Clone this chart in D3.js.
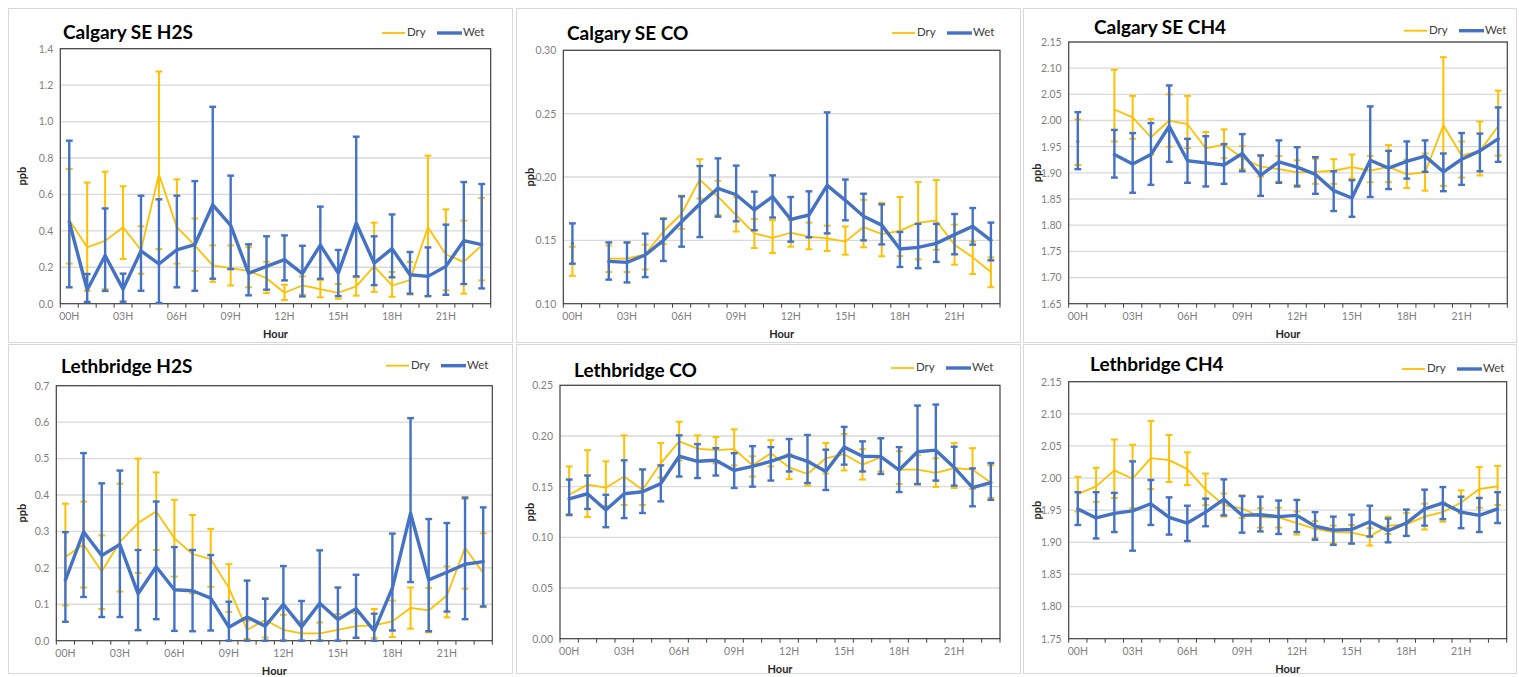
<!DOCTYPE html>
<html>
<head>
<meta charset="utf-8">
<script src="https://cdn.jsdelivr.net/npm/d3@7"></script>
<style>
  body { margin: 0; background: #fff; }
  svg { display: block; font-family: Lato, "Noto Sans", sans-serif; }
</style>
</head>
<body>
<svg id="chart" width="1519" height="677"></svg>
<script>
// Hour-of-day categories
const HOURS = ["00H","01H","02H","03H","04H","05H","06H","07H","08H","09H","10H","11H",
               "12H","13H","14H","15H","16H","17H","18H","19H","20H","21H","22H","23H"];
const HOUR_LABELS = ["00H","03H","06H","09H","12H","15H","18H","21H"];

// Calgary SE H2S (ppb): hourly mean with lower / upper error limits
const CAL_H2S_DRY_MEAN = [0.46,0.31,0.345,0.42,0.295,0.71,0.42,0.32,0.21,0.195,0.18,0.14,0.06,0.10,0.08,0.06,0.095,0.205,0.10,0.13,0.42,0.27,0.23,0.32];
const CAL_H2S_DRY_LO   = [0.22,0.07,0.08,0.245,0.165,0.30,0.22,0.18,0.12,0.10,0.09,0.058,0.02,0.05,0.035,0.027,0.044,0.065,0.038,0.05,0.04,0.073,0.055,0.128];
const CAL_H2S_DRY_HI   = [0.74,0.665,0.725,0.645,0.425,1.275,0.683,0.468,0.32,0.32,0.31,0.23,0.104,0.15,0.13,0.108,0.145,0.445,0.174,0.229,0.813,0.518,0.456,0.58];
const CAL_H2S_WET_MEAN = [0.45,0.075,0.265,0.08,0.29,0.218,0.296,0.324,0.543,0.43,0.167,0.205,0.242,0.165,0.322,0.168,0.443,0.223,0.302,0.159,0.15,0.205,0.346,0.324];
const CAL_H2S_WET_LO   = [0.09,0.01,0.07,0.011,0.071,0.004,0.09,0.071,0.137,0.19,0.046,0.077,0.128,0.04,0.137,0.042,0.15,0.102,0.145,0.055,0.042,0.049,0.108,0.084];
const CAL_H2S_WET_HI   = [0.895,0.163,0.523,0.165,0.593,0.573,0.593,0.673,1.081,0.703,0.326,0.37,0.375,0.318,0.533,0.295,0.917,0.37,0.49,0.284,0.309,0.434,0.668,0.657];

// Calgary SE CO (no 01H data)
const CAL_CO_DRY_MEAN = [0.133,null,0.1355,0.1355,0.139,0.157,0.171,0.198,0.1845,0.170,0.1555,0.152,0.156,0.153,0.1515,0.149,0.1605,0.155,0.1575,0.164,0.1655,0.1466,0.1366,0.125];
const CAL_CO_DRY_LO   = [0.122,null,0.125,0.125,0.127,0.147,0.159,0.183,0.170,0.157,0.144,0.140,0.145,0.143,0.1416,0.1387,0.1445,0.1374,0.1376,0.135,0.1426,0.1308,0.1234,0.113];
const CAL_CO_DRY_HI   = [0.145,null,0.146,0.148,0.1466,0.1676,0.1853,0.214,0.197,0.184,0.1668,0.166,0.166,0.164,0.1616,0.161,0.182,0.1797,0.1842,0.196,0.1976,0.1624,0.149,0.1366];
const CAL_CO_WET_MEAN = [0.1475,null,0.1334,0.1326,0.1384,0.150,0.1647,0.1787,0.191,0.186,0.174,0.1845,0.1666,0.170,0.1934,0.1816,0.169,0.162,0.1432,0.1445,0.1476,0.1545,0.161,0.150];
const CAL_CO_WET_LO   = [0.1316,null,0.119,0.1168,0.121,0.1337,0.145,0.1526,0.1687,0.165,0.158,0.168,0.149,0.1524,0.1555,0.1658,0.150,0.1468,0.129,0.128,0.133,0.139,0.1466,0.1342];
const CAL_CO_WET_HI   = [0.1634,null,0.1484,0.1484,0.1553,0.167,0.1847,0.2087,0.2147,0.209,0.1884,0.2013,0.1842,0.1887,0.251,0.198,0.1868,0.1784,0.1566,0.163,0.163,0.1708,0.1755,0.164];

// Calgary SE CH4 (no 01H data)
const CAL_CH4_DRY_MEAN = [1.958,null,2.021,2.006,1.968,2.0,1.993,1.947,1.954,1.928,1.912,1.907,1.901,1.902,1.904,1.911,1.904,1.912,1.897,1.901,1.991,1.933,1.942,1.989];
const CAL_CH4_DRY_LO   = [1.915,null,1.960,1.965,1.935,1.950,1.947,1.92,1.928,1.907,1.893,1.883,1.877,1.879,1.879,1.889,1.882,1.882,1.871,1.866,1.875,1.891,1.895,1.933];
const CAL_CH4_DRY_HI   = [2.002,null,2.097,2.047,2.003,2.05,2.047,1.978,1.983,1.951,1.934,1.932,1.924,1.927,1.926,1.935,1.932,1.953,1.925,1.937,2.121,1.96,1.998,2.057];
const CAL_CH4_WET_MEAN = [1.96,null,1.935,1.917,1.935,1.989,1.923,1.919,1.915,1.937,1.895,1.921,1.911,1.897,1.866,1.852,1.924,1.909,1.922,1.932,1.902,1.926,1.942,1.965];
const CAL_CH4_WET_LO   = [1.907,null,1.891,1.862,1.877,1.921,1.881,1.874,1.879,1.903,1.856,1.881,1.874,1.86,1.827,1.816,1.854,1.869,1.889,1.902,1.865,1.877,1.903,1.921];
const CAL_CH4_WET_HI   = [2.016,null,1.982,1.976,1.995,2.067,1.965,1.970,1.955,1.974,1.933,1.962,1.949,1.93,1.903,1.886,2.027,1.942,1.96,1.962,1.937,1.976,1.975,2.025];

// Lethbridge H2S
const LET_H2S_DRY_MEAN = [0.23,0.264,0.19,0.271,0.323,0.355,0.281,0.238,0.224,0.145,0.03,0.057,0.03,0.02,0.02,0.03,0.04,0.042,0.053,0.09,0.083,0.124,0.255,0.186];
const LET_H2S_DRY_LO   = [0.097,0.146,0.087,0.135,0.186,0.249,0.176,0.13,0.148,0.079,0.005,0.009,0.0,0.0,0.0,0.0,0.007,0.008,0.01,0.033,0.023,0.064,0.143,0.092];
const LET_H2S_DRY_HI   = [0.376,0.382,0.289,0.431,0.500,0.462,0.387,0.345,0.307,0.210,0.055,0.117,0.071,0.053,0.050,0.073,0.075,0.087,0.110,0.146,0.145,0.204,0.389,0.295];
const LET_H2S_WET_MEAN = [0.166,0.299,0.234,0.264,0.129,0.203,0.14,0.137,0.117,0.037,0.065,0.040,0.100,0.038,0.103,0.058,0.088,0.027,0.145,0.350,0.167,0.188,0.210,0.217];
const LET_H2S_WET_LO   = [0.052,0.120,0.065,0.065,0.029,0.059,0.027,0.026,0.028,0,0,0,0,0,0,0,0.008,0,0.028,0.161,0.026,0.080,0.059,0.094];
const LET_H2S_WET_HI   = [0.298,0.515,0.432,0.467,0.249,0.382,0.257,0.249,0.235,0.107,0.165,0.115,0.205,0.109,0.248,0.146,0.181,0.074,0.294,0.611,0.334,0.323,0.393,0.366];

// Lethbridge CO
const LET_CO_DRY_MEAN = [0.142,0.152,0.149,0.160,0.147,0.173,0.1947,0.1875,0.186,0.187,0.171,0.183,0.169,0.1625,0.178,0.182,0.1717,0.179,0.1668,0.1668,0.1635,0.1684,0.1668,0.154];
const LET_CO_DRY_LO   = [0.123,0.12,0.131,0.132,0.132,0.159,0.176,0.175,0.173,0.171,0.160,0.170,0.1575,0.151,0.163,0.166,0.157,0.165,0.1526,0.152,0.1497,0.1487,0.1477,0.139];
const LET_CO_DRY_HI   = [0.170,0.186,0.175,0.2006,0.167,0.193,0.214,0.2006,0.199,0.2066,0.180,0.196,0.182,0.175,0.193,0.202,0.187,0.198,0.185,0.181,0.178,0.193,0.188,0.171];
const LET_CO_WET_MEAN = [0.138,0.143,0.127,0.143,0.145,0.153,0.180,0.175,0.176,0.166,0.170,0.175,0.181,0.175,0.165,0.189,0.180,0.1796,0.1664,0.1845,0.186,0.169,0.149,0.154];
const LET_CO_WET_LO   = [0.122,0.128,0.110,0.119,0.124,0.1355,0.160,0.1585,0.161,0.1487,0.150,0.156,0.165,0.1536,0.1467,0.1717,0.165,0.1625,0.1447,0.1526,0.156,0.151,0.1306,0.137];
const LET_CO_WET_HI   = [0.157,0.161,0.142,0.176,0.167,0.171,0.2006,0.192,0.188,0.183,0.190,0.189,0.197,0.201,0.1865,0.209,0.1947,0.1977,0.189,0.230,0.231,0.1894,0.168,0.1733];

// Lethbridge CH4
const LET_CH4_DRY_MEAN = [1.975,1.987,2.012,1.999,2.031,2.028,2.014,1.982,1.958,1.953,1.939,1.939,1.930,1.921,1.916,1.915,1.909,1.926,1.928,1.940,1.947,1.962,1.983,1.987];
const LET_CH4_DRY_LO   = [1.948,1.963,1.969,1.953,1.983,1.994,1.989,1.958,1.940,1.938,1.923,1.923,1.912,1.907,1.899,1.899,1.895,1.913,1.910,1.92,1.932,1.945,1.954,1.958];
const LET_CH4_DRY_HI   = [2.002,2.016,2.060,2.052,2.089,2.067,2.040,2.007,1.976,1.973,1.953,1.954,1.948,1.933,1.926,1.927,1.922,1.940,1.946,1.96,1.962,1.981,2.017,2.019];
const LET_CH4_WET_MEAN = [1.952,1.938,1.945,1.949,1.960,1.939,1.930,1.947,1.967,1.942,1.943,1.940,1.942,1.925,1.919,1.920,1.932,1.918,1.930,1.952,1.961,1.947,1.942,1.952];
const LET_CH4_WET_LO   = [1.927,1.906,1.916,1.887,1.927,1.912,1.902,1.925,1.942,1.915,1.917,1.913,1.916,1.904,1.896,1.898,1.909,1.900,1.910,1.926,1.936,1.922,1.916,1.930];
const LET_CH4_WET_HI   = [1.978,1.978,1.977,2.026,1.997,1.970,1.957,1.968,1.998,1.972,1.971,1.965,1.966,1.947,1.940,1.943,1.957,1.937,1.951,1.982,1.986,1.971,1.969,1.978];

const DRY_COLOR = "#FFC000";
const WET_COLOR = "#4472C4";

// Panel layout: outer frame, plot area, title and legend anchors
const panels = [
  { title: "Calgary SE H2S", box: [8, 8, 504, 334], plot: [60.3, 48.7, 490.7, 303.7],
    domain: [0, 1.4], step: 0.2, fmt: ".1f", titleX: 63, titleY: 39, legendX: 382, legendY: 33,
    dry: [CAL_H2S_DRY_MEAN, CAL_H2S_DRY_LO, CAL_H2S_DRY_HI], wet: [CAL_H2S_WET_MEAN, CAL_H2S_WET_LO, CAL_H2S_WET_HI] },
  { title: "Calgary SE CO", box: [516, 8, 504, 334], plot: [563.3, 50.3, 1000, 303.7],
    domain: [0.10, 0.30], step: 0.05, fmt: ".2f", titleX: 567, titleY: 40, legendX: 892, legendY: 33,
    dry: [CAL_CO_DRY_MEAN, CAL_CO_DRY_LO, CAL_CO_DRY_HI], wet: [CAL_CO_WET_MEAN, CAL_CO_WET_LO, CAL_CO_WET_HI] },
  { title: "Calgary SE CH4", box: [1023, 8, 493, 334], plot: [1068.7, 42, 1507.3, 303.7],
    domain: [1.65, 2.15], step: 0.05, fmt: ".2f", titleX: 1094, titleY: 34, legendX: 1404, legendY: 30.7,
    dry: [CAL_CH4_DRY_MEAN, CAL_CH4_DRY_LO, CAL_CH4_DRY_HI], wet: [CAL_CH4_WET_MEAN, CAL_CH4_WET_LO, CAL_CH4_WET_HI] },
  { title: "Lethbridge H2S", box: [8, 344, 504, 329], plot: [56.3, 385.7, 492.3, 640.7],
    domain: [0, 0.7], step: 0.1, fmt: ".1f", titleX: 61, titleY: 373, legendX: 386, legendY: 365.7,
    dry: [LET_H2S_DRY_MEAN, LET_H2S_DRY_LO, LET_H2S_DRY_HI], wet: [LET_H2S_WET_MEAN, LET_H2S_WET_LO, LET_H2S_WET_HI] },
  { title: "Lethbridge CO", box: [516, 344, 504, 329], plot: [560, 385.3, 1000, 638.7],
    domain: [0, 0.25], step: 0.05, fmt: ".2f", titleX: 574, titleY: 377, legendX: 891, legendY: 368,
    dry: [LET_CO_DRY_MEAN, LET_CO_DRY_LO, LET_CO_DRY_HI], wet: [LET_CO_WET_MEAN, LET_CO_WET_LO, LET_CO_WET_HI] },
  { title: "Lethbridge CH4", box: [1023, 344, 493, 329], plot: [1068.7, 381.7, 1506.7, 638.7],
    domain: [1.75, 2.15], step: 0.05, fmt: ".2f", titleX: 1090, titleY: 371, legendX: 1402, legendY: 369,
    dry: [LET_CH4_DRY_MEAN, LET_CH4_DRY_LO, LET_CH4_DRY_HI], wet: [LET_CH4_WET_MEAN, LET_CH4_WET_LO, LET_CH4_WET_HI] }
];

const svg = d3.select("#chart");

function drawSeries(g, x, y, arrays, color, lineW, barW) {
  const [mean, lo, hi] = arrays;
  const pts = HOURS.map((h, i) => ({ h, m: mean[i], lo: lo[i], hi: hi[i] }));
  const valid = pts.filter(d => d.m != null);
  const cx = d => x(d.h) + x.bandwidth() / 2;
  const capHalf = 3.4;

  const eb = g.append("g").attr("stroke", color).attr("stroke-width", barW).attr("fill", "none");
  eb.selectAll("line.v").data(valid).join("line").attr("class", "v")
    .attr("x1", cx).attr("x2", cx).attr("y1", d => y(d.lo)).attr("y2", d => y(d.hi));
  eb.selectAll("line.t").data(valid).join("line").attr("class", "t")
    .attr("x1", d => cx(d) - capHalf).attr("x2", d => cx(d) + capHalf)
    .attr("y1", d => y(d.hi)).attr("y2", d => y(d.hi));
  eb.selectAll("line.b").data(valid).join("line").attr("class", "b")
    .attr("x1", d => cx(d) - capHalf).attr("x2", d => cx(d) + capHalf)
    .attr("y1", d => y(d.lo)).attr("y2", d => y(d.lo));

  const line = d3.line().defined(d => d.m != null).x(cx).y(d => y(d.m));
  g.append("path").datum(pts).attr("d", line)
    .attr("fill", "none").attr("stroke", color).attr("stroke-width", lineW)
    .attr("stroke-linejoin", "round").attr("stroke-linecap", "round");
}

panels.forEach(p => {
  const [bx, by, bw, bh] = p.box;
  const [x0, y0, x1, y1] = p.plot;
  const g = svg.append("g");

  // chart frame
  g.append("rect").attr("x", bx + 0.5).attr("y", by + 0.5).attr("width", bw).attr("height", bh)
    .attr("fill", "#fff").attr("stroke", "#d9d9d9").attr("stroke-width", 1);

  const x = d3.scaleBand().domain(HOURS).range([x0, x1]).padding(0);
  const y = d3.scaleLinear().domain(p.domain).range([y1, y0]);
  const ticks = d3.range(p.domain[0], p.domain[1] + p.step / 2, p.step);

  // horizontal gridlines
  g.append("g").selectAll("line").data(ticks.slice(1)).join("line")
    .attr("x1", x0).attr("x2", x1).attr("y1", d => y(d)).attr("y2", d => y(d))
    .attr("stroke", "#d9d9d9").attr("stroke-width", 1.3);

  // y axis labels
  const yAxis = d3.axisLeft(y).tickValues(ticks).tickFormat(d3.format(p.fmt)).tickSize(0).tickPadding(7);
  const ya = g.append("g").attr("transform", `translate(${x0},0)`).call(yAxis);
  ya.select(".domain").remove();
  ya.selectAll("text").attr("fill", "#7f7f7f").style("font-size", "10.5px").style("font-family", "Lato, sans-serif");

  // x axis labels every three hours
  const xAxis = d3.axisBottom(x).tickValues(HOUR_LABELS).tickSize(0).tickPadding(9);
  const xa = g.append("g").attr("transform", `translate(0,${y1})`).call(xAxis);
  xa.select(".domain").remove();
  xa.selectAll("text").attr("fill", "#7f7f7f").style("font-size", "10.5px").style("font-family", "Lato, sans-serif");

  // category boundary tick marks
  const bounds = HOURS.map(h => x(h)).concat([x(HOURS[HOURS.length - 1]) + x.bandwidth()]);
  g.append("g").selectAll("line").data(bounds).join("line")
    .attr("x1", d => d).attr("x2", d => d).attr("y1", y1).attr("y2", y1 + 4)
    .attr("stroke", "#404040").attr("stroke-width", 1);

  // plot area border
  g.append("rect").attr("x", x0).attr("y", y0).attr("width", x1 - x0).attr("height", y1 - y0)
    .attr("fill", "none").attr("stroke", "#404040").attr("stroke-width", 1.2);

  // series: dry underneath, wet on top
  drawSeries(g, x, y, p.dry, DRY_COLOR, 1.8, 2);
  drawSeries(g, x, y, p.wet, WET_COLOR, 3.4, 2.4);

  // titles and axis names
  g.append("text").attr("x", p.titleX).attr("y", p.titleY).text(p.title)
    .attr("fill", "#000").style("font-size", "19px").style("font-weight", "700");
  g.append("text").attr("x", (x0 + x1) / 2).attr("y", y1 + 31).attr("text-anchor", "middle")
    .attr("dominant-baseline", "middle").text("Hour")
    .attr("fill", "#262626").style("font-size", "11px").style("font-weight", "700");
  g.append("text").attr("transform", `translate(${bx + 15},${(y0 + y1) / 2}) rotate(-90)`)
    .attr("text-anchor", "middle").attr("dominant-baseline", "middle").text("ppb")
    .attr("fill", "#262626").style("font-size", "11px").style("font-weight", "700");

  // legend
  const lg = g.append("g").attr("transform", `translate(${p.legendX},${p.legendY})`);
  lg.append("line").attr("x1", 0).attr("x2", 23).attr("stroke", DRY_COLOR).attr("stroke-width", 1.8);
  lg.append("text").attr("x", 25).attr("dominant-baseline", "middle").text("Dry")
    .attr("fill", "#404040").style("font-size", "11.5px");
  lg.append("line").attr("x1", 55).attr("x2", 80).attr("stroke", WET_COLOR).attr("stroke-width", 3.4);
  lg.append("text").attr("x", 81).attr("dominant-baseline", "middle").text("Wet")
    .attr("fill", "#404040").style("font-size", "11.5px");
});
</script>
</body>
</html>
